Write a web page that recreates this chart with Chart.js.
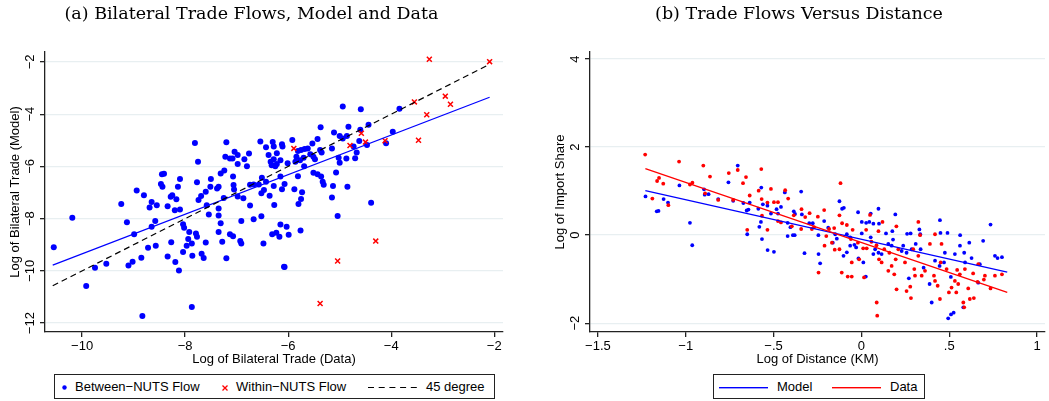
<!DOCTYPE html>
<html>
<head>
<meta charset="utf-8">
<script src="https://cdn.jsdelivr.net/npm/chart.js@4.4.0/dist/chart.umd.min.js"></script>
<style>
  body { margin: 0; background: #fff; width: 1049px; height: 401px; overflow: hidden; position: relative;
         font-family: "Liberation Sans", Arial, sans-serif; color: #000; }
  #left { position: absolute; left: 0; top: 0; }
  #right { position: absolute; left: 551px; top: 0; }
  .box { position: absolute; top: 374px; height: 25px; border: 1px solid #222; box-sizing: border-box; }
  .lab { position: absolute; top: 379px; font-size: 13px; line-height: 16px; white-space: nowrap; }
  svg { position: absolute; overflow: visible; }
</style>
</head>
<body>
<canvas id="left" width="510" height="370"></canvas>
<canvas id="right" width="498" height="370"></canvas>

<div class="box" style="left:54px;width:441px"></div>
<svg style="left:60px;top:383px" width="9" height="9"><circle cx="4.5" cy="4.5" r="2.2" fill="#0000ff"/></svg>
<span class="lab" style="left:75px">Between−NUTS Flow</span>
<svg style="left:221px;top:384px" width="8" height="8"><path d="M1.5 1.5L6.5 6.5M6.5 1.5L1.5 6.5" stroke="#ff0000" stroke-width="1.3"/></svg>
<span class="lab" style="left:236px">Within−NUTS Flow</span>
<svg style="left:368px;top:383px" width="50" height="9"><line x1="0" y1="4.5" x2="49" y2="4.5" stroke="#000" stroke-width="1.2" stroke-dasharray="6 4.7"/></svg>
<span class="lab" style="left:426px">45 degree</span>

<div class="box" style="left:713px;width:212px"></div>
<svg style="left:719px;top:383px" width="50" height="9"><rect x="0" y="4" width="49" height="1.4" fill="#0000ff"/></svg>
<span class="lab" style="left:777px">Model</span>
<svg style="left:832px;top:383px" width="50" height="9"><rect x="0" y="4" width="49" height="1.4" fill="#ff0000"/></svg>
<span class="lab" style="left:890px">Data</span>

<script>
// (a) bilateral trade flows: log data (x) vs log model (y)
const betweenX = [-4.94,-5.37,-4.83,-5.11,-5.00,-4.94,-4.86,-6.54,-6.30,-6.43,-6.12,-5.92,-6.11,-6.28,-7.81,-7.20,
  -7.04,-6.98,-6.76,-6.85,-7.22,-7.13,-7.08,-6.80,-6.98,-7.75,-6.38,-6.22,-6.28,-6.34,-6.15,-6.32,-6.25,-6.22,-6.01,
  -5.86,-5.81,-5.75,-5.68,-5.62,-5.53,-5.43,-5.70,-5.57,-5.51,-5.48,-5.38,-5.35,-5.15,-5.69,-5.77,-5.84,-5.02,-5.00,
  -4.87,-4.73,-8.45,-8.41,-8.47,-8.44,-8.10,-8.14,-8.25,-8.28,-8.17,-8.20,-8.10,-7.77,-7.69,-7.74,-7.60,-7.50,-7.51,
  -7.38,-7.35,-7.31,-7.24,-7.07,-7.06,-7.05,-7.25,-6.98,-6.87,-6.74,-6.67,-6.57,-6.51,-6.52,-6.47,-6.43,-6.36,-6.28,
  -6.15,-6.12,-6.07,-6.27,-5.88,-5.81,-5.73,-5.75,-5.80,-5.51,-5.43,-5.36,-5.33,-5.31,-5.13,-5.15,-5.07,-4.85,-8.94,
  -8.80,-8.65,-8.69,-8.55,-8.34,-9.24,-9.13,-8.99,-8.65,-8.58,-8.72,-8.57,-8.27,-8.04,-8.02,-7.92,-7.79,-7.77,-7.94,
  -7.87,-7.97,-8.04,-8.19,-8.34,-8.12,-7.86,-7.68,-7.64,-7.60,-7.54,-7.58,-7.35,-7.35,-7.31,-7.35,-7.28,-7.20,-7.13,
  -7.07,-6.93,-6.91,-6.91,-6.67,-6.52,-6.74,-6.48,-6.31,-6.23,-6.15,-6.03,-6.17,-5.99,-5.76,-6.07,-5.04,-9.53,-9.10,
  -9.02,-8.85,-10.55,-10.19,-9.92,-9.75,-8.83,-7.87,-4.39,-6.08,-4.59,-4.44,-3.84,-3.97,-4.10,-4.60,-4.62,-4.47,
  -4.67,-4.70];
const betweenY = [-3.71,-4.50,-4.48,-4.70,-4.84,-4.93,-4.84,-5.05,-5.07,-5.27,-5.15,-4.99,-5.24,-5.24,-5.10,-5.08,
  -5.44,-5.56,-5.51,-5.73,-5.63,-5.70,-5.70,-5.99,-5.91,-5.82,-5.56,-5.50,-5.73,-5.82,-5.76,-5.96,-5.99,-5.91,-5.88,
  -5.82,-5.41,-5.37,-5.33,-5.31,-5.12,-4.95,-5.67,-5.53,-5.63,-5.73,-5.37,-5.47,-5.31,-5.99,-5.76,-5.63,-5.67,-5.86,
  -5.70,-5.24,-6.30,-6.28,-6.67,-6.78,-6.48,-6.78,-7.10,-7.16,-7.26,-7.68,-7.65,-6.61,-7.13,-7.29,-6.97,-6.48,-6.78,
  -6.85,-6.78,-6.27,-6.16,-6.39,-6.71,-6.88,-7.21,-7.15,-7.22,-6.70,-6.69,-6.69,-6.43,-7.03,-6.90,-6.59,-7.12,-6.75,
  -6.39,-6.87,-6.67,-7.48,-6.87,-6.38,-6.99,-7.25,-7.44,-6.24,-6.30,-6.39,-6.59,-6.70,-6.75,-7.19,-6.23,-6.78,-6.92,
  -7.10,-7.36,-7.57,-7.49,-7.53,-7.44,-8.14,-8.60,-8.31,-8.09,-9.11,-9.04,-8.90,-8.21,-8.35,-8.51,-8.57,-8.69,-8.78,
  -8.95,-9.04,-9.28,-9.66,-9.45,-9.99,-9.42,-9.34,-9.51,-8.91,-7.84,-7.49,-7.61,-7.88,-8.18,-8.51,-8.88,-9.52,-8.60,
  -8.67,-8.86,-8.95,-8.09,-8.02,-7.91,-7.50,-8.95,-8.60,-8.54,-8.22,-8.31,-8.69,-8.62,-8.45,-9.85,-7.90,-9.73,-9.79,
  -9.65,-9.50,-9.10,-7.97,-10.58,-9.88,-11.73,-11.38,-7.39,-9.84,-3.81,-4.41,-3.79,-4.67,-5.11,-4.60,-5.03,-5.18,
  -5.47,-5.69];
const withinX = [-3.26,-2.09,-3.55,-2.95,-2.85,-3.31,-3.47,-4.58,-4.50,-4.12,-4.80,-5.89,-5.04,-4.30,-5.38];
const withinY = [-1.90,-1.99,-3.53,-3.31,-3.62,-4.02,-5.00,-4.73,-5.07,-5.02,-5.20,-5.31,-9.62,-8.86,-11.25];
const fitAX = [-10.57, -2.09];
const fitAY = [-9.78, -3.35];
const diagX = [-10.57, -2.09];
const diagY = [-10.57, -2.09];
const aXTicks = [-10, -8, -6, -4, -2];
const aYTicks = [-12, -10, -8, -6, -4, -2];

// (b) log import share vs log distance
const modelX = [-1.229,-1.165,-1.155,-1.126,-1.101,-1.036,-0.976,-0.963,-0.896,-0.892,-0.87,-0.815,-0.757,-0.73,
  -0.704,-0.672,-0.653,-0.643,-0.65,-0.636,-0.587,-0.581,-0.572,-0.57,-0.561,-0.566,-0.535,-0.534,-0.515,-0.498,
  -0.483,-0.475,-0.458,-0.436,-0.42,-0.42,-0.343,-0.385,-0.378,-0.339,-0.277,-0.297,-0.212,-0.125,-0.11,-0.10,-0.019,
  0.002,0.027,0.045,0.053,0.068,0.097,0.10,0.14,0.193,0.176,0.26,0.28,0.33,0.335,0.447,0.45,0.49,0.562,0.735,-0.404,
  -0.39,-0.38,-0.245,-0.189,-0.149,-0.083,-0.064,0.002,0.053,0.18,-0.163,-0.14,-0.324,-0.244,-0.235,-0.102,-0.083,
  -0.064,-0.04,-0.03,-0.017,0.011,0.025,0.078,0.097,0.068,0.115,0.153,0.172,0.229,0.238,0.27,0.257,0.286,0.309,0.337,
  0.354,0.388,0.40,0.419,0.445,0.47,0.475,0.494,0.51,0.525,0.509,0.532,0.561,0.585,0.59,0.614,0.627,0.58,0.665,0.693,
  0.76,0.775,0.80,0.674];
const modelY = [0.88,0.54,0.55,0.82,0.74,1.13,0.28,-0.23,1.04,0.92,0.93,0.82,1.20,0.78,1.58,0.73,0.56,0.58,0.02,0.74,
  0.60,0.19,0.30,1.08,0.70,-0.09,0.67,-0.34,0.49,-0.38,0.59,0.49,0.64,0.97,0.28,-0.02,0.99,0.54,0.48,0.47,0.27,0.27,
  0.32,0.77,0.60,0.62,0.52,0.30,0.28,0.30,0.49,0.26,0.60,0.26,0.04,0.47,0.09,0.03,0.04,0.13,0.02,0.34,0.05,0.05,0.00,
  0.24,0.18,0.00,0.00,0.00,0.17,0.02,0.02,-0.05,0.04,-0.05,-0.10,-0.17,-0.08,-0.41,-0.43,-0.64,-0.47,-0.39,-0.24,
  -0.22,-0.28,-0.53,-0.62,-0.94,-0.32,-0.40,-0.43,-0.43,-0.20,-0.24,-0.36,-0.24,-0.98,-0.40,-0.32,-0.20,-0.32,-0.74,
  -1.11,-1.53,-0.58,-0.70,-0.62,-0.40,-1.89,-1.80,-1.76,-0.95,-0.43,-0.24,-0.40,-0.62,-0.17,-0.52,-1.64,-1.08,-0.13,
  -0.47,-0.52,-0.50,-0.66];
const dataX = [-1.231,-1.19,-1.163,-1.152,-1.128,-1.099,-1.038,-0.976,-0.962,-0.90,-0.89,-0.862,-0.815,-0.755,-0.73,
  -0.704,-0.674,-0.657,-0.65,-0.636,-0.585,-0.57,-0.568,-0.566,-0.535,-0.535,-0.515,-0.498,-0.475,-0.475,-0.458,-0.434,
  -0.417,-0.119,-0.125,-0.11,-0.083,-0.212,-0.295,-0.248,-0.341,-0.32,-0.385,-0.396,-0.343,-0.282,-0.27,-0.184,-0.155,
  0.049,0.12,0.027,0.097,0.199,0.324,0.419,-0.05,0.334,-0.20,-0.168,-0.152,-0.125,-0.112,-0.078,-0.055,-0.055,-0.013,
  0.01,0.03,-0.02,-0.06,0.057,0.086,0.10,0.115,0.087,0.09,0.13,0.159,0.172,0.187,0.195,0.153,0.20,0.21,0.248,0.257,
  0.278,0.282,0.295,0.301,0.305,0.324,0.343,0.362,0.413,0.419,0.434,0.447,0.456,0.451,0.485,0.498,0.513,0.532,0.551,
  0.545,0.56,0.589,0.58,0.608,0.617,0.636,0.64,0.661,0.665,0.703,0.697,0.735,0.76,0.80,0.39,-0.244,-0.21,0.015,
  0.54,0.585];
const dataY = [1.83,0.83,1.23,1.30,1.17,0.68,1.67,1.15,1.19,1.58,0.95,1.33,0.80,1.41,0.80,1.48,1.18,1.32,0.12,0.90,
  1.01,1.50,0.82,0.44,0.74,0.12,1.05,0.75,0.75,0.32,0.29,1.02,0.83,1.18,0.45,0.27,0.23,0.57,0.50,0.42,0.59,0.41,0.45,
  0.20,0.14,0.14,0.18,0.14,0.16,0.46,0.30,0.12,0.09,0.20,0.30,0.02,0.12,0.00,-0.02,-0.17,-0.33,-0.32,-0.85,-0.94,
  -0.94,-0.62,-0.55,-0.30,-0.30,-0.17,-0.09,-0.15,-0.23,-0.55,-0.62,-1.53,-1.83,-0.32,-0.40,-0.70,-0.89,-0.55,-0.81,
  -1.23,-0.32,-0.62,-1.27,-1.17,-1.43,-0.32,-0.77,-0.92,-0.47,-0.92,-0.81,-0.92,-1.04,-1.15,-1.45,-0.20,-0.62,-0.77,
  -1.30,-1.19,-1.04,-1.11,-0.79,-0.89,-0.77,-1.53,-1.21,-1.45,-0.87,-1.43,-1.06,-0.66,-0.92,-1.01,-1.21,-0.92,-0.89,
  -0.20,-0.85,-0.24,-0.96,-1.30,-1.64];
const fitModelX = [-1.23, 0.83];
const fitModelY = [1.01, -0.84];
const fitDataX = [-1.23, 0.83];
const fitDataY = [1.51, -1.30];
const bXTicks = [-1.5, -1, -0.5, 0, 0.5, 1];
const bYTicks = [-2, 0, 2, 4];

const pts = (xs, ys) => xs.map((x, i) => ({ x: x, y: ys[i] }));
const minus = v => (v < 0 ? '\u2212' : '') + String(Math.abs(v)).replace(/^0\./, '.');

const sans = { family: '"Liberation Sans", Arial, sans-serif', size: 13 };
const axisCol = '#222';

function xAxis(min, max, ticks, title) {
  return {
    type: 'linear', min: min, max: max,
    afterBuildTicks: s => { s.ticks = ticks.map(v => ({ value: v })); },
    afterFit: s => { s.height = 38; },
    border: { color: axisCol, width: 1.3 },
    grid: { drawOnChartArea: false, color: axisCol, tickLength: 5, lineWidth: 1.3 },
    ticks: { padding: 2, autoSkip: false, maxRotation: 0, color: '#000', font: sans, callback: minus },
    title: { display: true, text: title, color: '#000', font: sans, padding: { top: 0, bottom: 3 } }
  };
}

function yAxis(min, max, ticks, title, width, tickPad, titlePad) {
  return {
    type: 'linear', min: min, max: max,
    afterBuildTicks: s => { s.ticks = ticks.map(v => ({ value: v })); },
    afterFit: s => { s.width = width; },
    border: { color: axisCol, width: 1.3 },
    grid: { color: '#e8eff1', lineWidth: 1.3, tickColor: axisCol, tickLength: 5, tickWidth: 1.3 },
    ticks: { minRotation: 90, maxRotation: 90, crossAlign: 'center', padding: tickPad, autoSkip: false,
             color: '#000', font: sans, callback: minus },
    title: { display: true, text: title, color: '#000', font: sans, padding: { top: titlePad, bottom: 0 } }
  };
}

function opts(title, padRight, scales) {
  return {
    responsive: false, animation: false,
    layout: { padding: { right: padRight } },
    plugins: {
      legend: { display: false },
      tooltip: { enabled: false },
      title: { display: true, text: title, color: '#000',
               font: { family: '"DejaVu Serif", "Liberation Serif", serif', size: 17.5, weight: 'normal' },
               padding: { top: 4, bottom: 27 } }
    },
    scales: scales
  };
}

new Chart(document.getElementById('left'), {
  type: 'scatter',
  data: {
    datasets: [
      { label: 'Between\u2212NUTS Flow', data: pts(betweenX, betweenY), backgroundColor: '#0000ff',
        borderWidth: 0, pointRadius: 3, order: 4 },
      { label: 'Within\u2212NUTS Flow', data: pts(withinX, withinY), pointStyle: 'crossRot',
        borderColor: '#ff0000', backgroundColor: '#ff0000', borderWidth: 1.5, pointRadius: 3.5, order: 3 },
      { label: 'Fit', data: pts(fitAX, fitAY), showLine: true, borderColor: '#0000ff', borderWidth: 1.2,
        pointRadius: 0, order: 2 },
      { label: '45 degree', data: pts(diagX, diagY), showLine: true, borderColor: '#000', borderWidth: 1.2,
        borderDash: [6, 4], pointRadius: 0, order: 1 }
    ]
  },
  options: opts('(a) Bilateral Trade Flows, Model and Data', 7, {
    x: xAxis(-10.72, -1.83, aXTicks, 'Log of Bilateral Trade (Data)'),
    y: yAxis(-12.34, -1.62, aYTicks, 'Log of Bilateral Trade (Model)', 45, -1.5, 7.7)
  })
});

new Chart(document.getElementById('right'), {
  type: 'scatter',
  data: {
    datasets: [
      { label: 'Model', data: pts(modelX, modelY), backgroundColor: '#0000ff', borderWidth: 0,
        pointRadius: 1.9, order: 4 },
      { label: 'Data', data: pts(dataX, dataY), backgroundColor: '#ff0000', borderWidth: 0,
        pointRadius: 1.9, order: 3 },
      { label: 'Model fit', data: pts(fitModelX, fitModelY), showLine: true, borderColor: '#0000ff',
        borderWidth: 1.2, pointRadius: 0, order: 2 },
      { label: 'Data fit', data: pts(fitDataX, fitDataY), showLine: true, borderColor: '#ff0000',
        borderWidth: 1.2, pointRadius: 0, order: 1 }
    ]
  },
  options: opts('(b) Trade Flows Versus Distance', 2, {
    x: xAxis(-1.545, 1.045, bXTicks, 'Log of Distance (KM)'),
    y: yAxis(-2.2, 4.16, bYTicks, 'Log of Import Share', 39, 2, 1.5)
  })
});
</script>
</body>
</html>
